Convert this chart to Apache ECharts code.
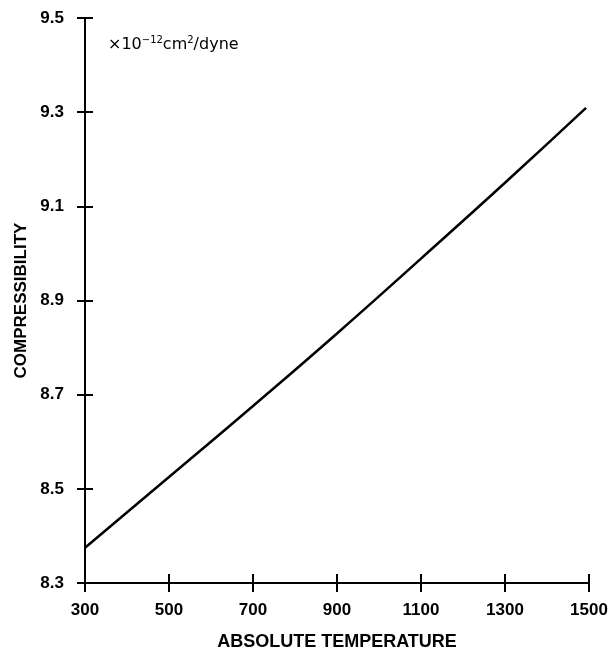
<!DOCTYPE html>
<html>
<head>
<meta charset="utf-8">
<script src="https://cdn.jsdelivr.net/npm/echarts@6/dist/echarts.min.js"></script>
<style>
html,body{margin:0;padding:0;background:#fff;}
#chart{width:610px;height:650px;}
</style>
</head>
<body>
<div id="chart"></div>
<script>
// Data
const temperatures = [300, 500, 700, 900, 1100, 1300, 1493];
const compressibility = [8.375, 8.525, 8.676, 8.830, 8.989, 9.150, 9.309];
const xTicks = [300, 500, 700, 900, 1100, 1300, 1500];
const yTicks = [8.3, 8.5, 8.7, 8.9, 9.1, 9.3, 9.5];
const xTitle = 'ABSOLUTE TEMPERATURE';
const yTitle = 'COMPRESSIBILITY';

const chart = echarts.init(document.getElementById('chart'), null, {renderer: 'canvas'});
const lbl = {fontFamily: 'Liberation Sans, Arial, sans-serif', fontWeight: 'bold', fontSize: 17, color: '#000'};
const axLine = {lineStyle: {color: '#000', width: 2}};

const baseX = {
  type: 'value', min: xTicks[0], max: xTicks[xTicks.length - 1], interval: 200,
  splitLine: {show: false}, axisLine: axLine
};
const baseY = {
  type: 'value', min: yTicks[0], max: yTicks[yTicks.length - 1], interval: 0.2,
  splitLine: {show: false}, axisLine: axLine
};

chart.setOption({
  animation: false,
  backgroundColor: '#fff',
  grid: {left: 85, right: 21, top: 18, bottom: 67, containLabel: false, outerBoundsMode: 'none'},
  xAxis: [
    Object.assign({}, baseX, {
      position: 'bottom',
      axisTick: {show: true, inside: false, length: 9, lineStyle: {color: '#000', width: 2}},
      axisLabel: Object.assign({}, lbl, {margin: 19, formatter: v => String(v)}),
      name: xTitle, nameLocation: 'middle', nameGap: 50,
      nameTextStyle: Object.assign({}, lbl, {fontSize: 18})
    }),
    Object.assign({}, baseX, {
      position: 'bottom', gridIndex: 0,
      axisTick: {show: true, inside: true, length: 9, lineStyle: {color: '#000', width: 2}},
      axisLabel: {show: false}
    })
  ],
  yAxis: [
    Object.assign({}, baseY, {
      position: 'left',
      axisTick: {show: true, inside: false, length: 8, lineStyle: {color: '#000', width: 2}},
      axisLabel: Object.assign({}, lbl, {margin: 21, formatter: v => v.toFixed(1)}),
      name: yTitle, nameLocation: 'middle', nameGap: 51, nameRotate: 90,
      nameTextStyle: Object.assign({}, lbl, {fontSize: 17})
    }),
    Object.assign({}, baseY, {
      position: 'left',
      axisTick: {show: true, inside: true, length: 8, lineStyle: {color: '#000', width: 2}},
      axisLabel: {show: false}
    })
  ],
  graphic: [{
    type: 'text', left: 108, top: 35,
    style: {
      rich: {
        n: {fontFamily: 'DejaVu Sans, sans-serif', fontSize: 16, fill: '#000', fontWeight: 'normal'},
        s: {fontFamily: 'DejaVu Sans, sans-serif', fontSize: 10, fill: '#000', verticalAlign: 'top', padding: [0, 0, 10, 0]}
      },
      text: '{n|×10}{s|−12}{n|cm}{s|2}{n|/dyne}'
    }
  }],
  series: [{
    type: 'line',
    xAxisIndex: 0, yAxisIndex: 0,
    data: temperatures.map((t, i) => [t, compressibility[i]]),
    smooth: true,
    symbol: 'none',
    lineStyle: {color: '#000', width: 2.5}
  }]
});
</script>
</body>
</html>
